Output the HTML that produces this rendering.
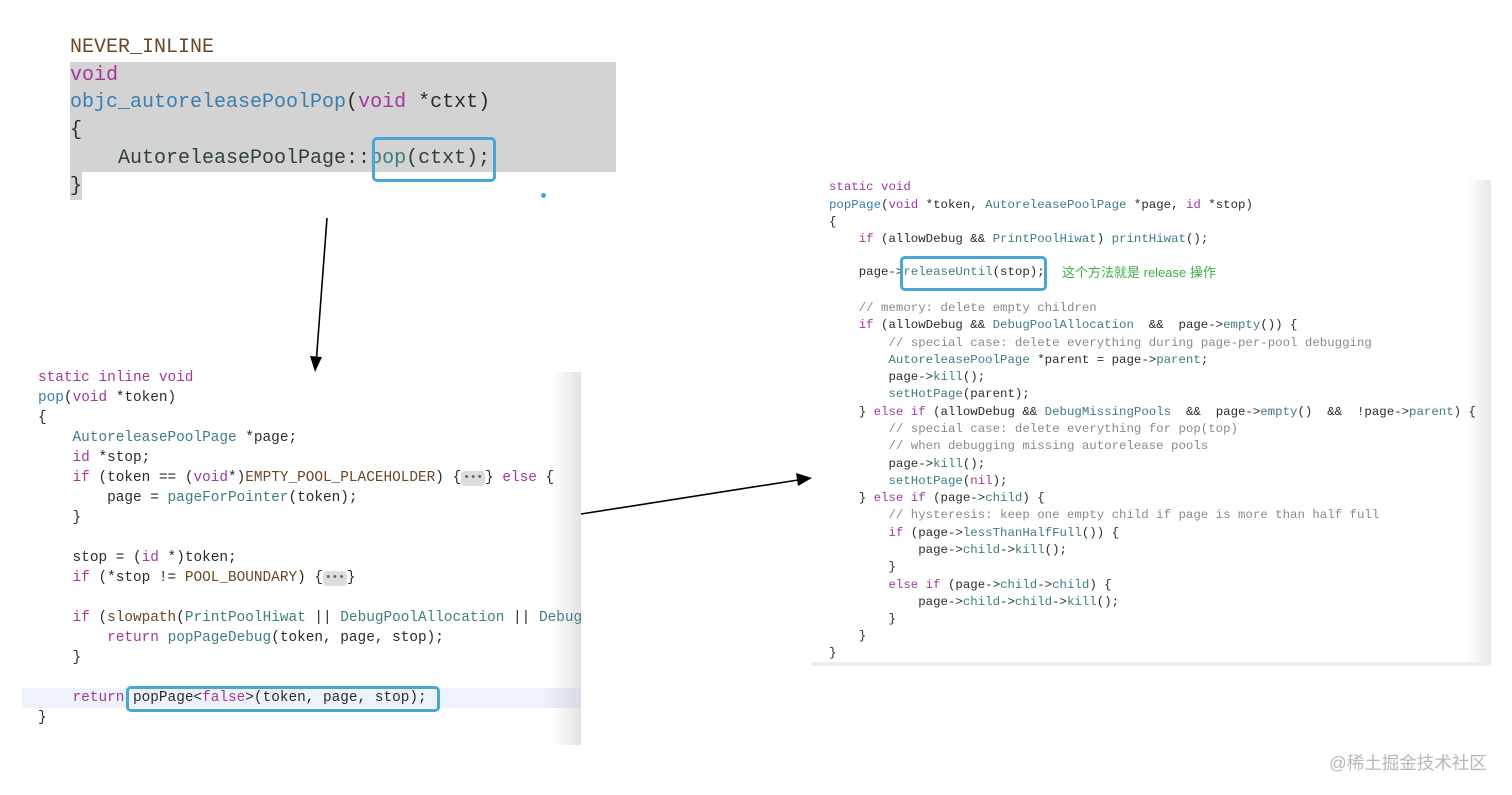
<!DOCTYPE html>
<html><head><meta charset="utf-8"><style>
html,body{margin:0;padding:0;width:1512px;height:795px;background:#fff;overflow:hidden;position:relative}
.l{position:absolute;white-space:pre;font-family:"Liberation Mono",monospace;color:#2b2b2b}
.t .l{font-size:20px;line-height:28px}
.m .l{font-size:14.4px;line-height:20px}
.r .l{font-size:12.4px;line-height:17px}
.k{color:#a0399b}.f{color:#3a7db0}.p{color:#3f7d82}.mc{color:#6a4726}.c{color:#8a8a8a}.g{color:#2f3f3a}
.box{position:absolute;border:3px solid #4aa7d4;border-radius:5px;box-sizing:border-box}
.dots{display:inline-block;background:#ddd;border-radius:4px;color:#666;font-size:11px;line-height:15px;padding:0 2px;vertical-align:1px}
</style></head><body>
<!-- top block -->
<div style="position:absolute;left:70px;top:62px;width:546px;height:110px;background:#d3d3d3"></div>
<div style="position:absolute;left:70px;top:172px;width:12px;height:28px;background:#d3d3d3"></div>
<div class="t">
<div class="l mc" style="left:70px;top:34px">NEVER_INLINE</div>
<div class="l k" style="left:70px;top:62px">void</div>
<div class="l" style="left:70px;top:89px"><span class="f">objc_autoreleasePoolPop</span>(<span class="k">void</span> *ctxt)</div>
<div class="l" style="left:70px;top:117px">{</div>
<div class="l g" style="left:70px;top:145px">    AutoreleasePoolPage::<span class="p">pop</span>(ctxt);</div>
<div class="l" style="left:70px;top:173px">}</div>
</div>
<div class="box" style="left:372px;top:137px;width:124px;height:45px"></div>
<div style="position:absolute;left:541px;top:193px;width:5px;height:5px;border-radius:50%;background:#4aa7d4"></div>

<!-- middle block -->
<div style="position:absolute;left:22px;top:372px;width:559px;height:373px;background:linear-gradient(to right,#fff 0,#fff 530px,#e4e4e4 559px)"></div>
<div style="position:absolute;left:22px;top:688px;width:559px;height:20px;background:linear-gradient(to right,#eef2fa 0,#eef2fa 520px,#d8dbe2 559px)"></div>
<div class="m">
<div class="l k" style="left:38px;top:368px">static inline void</div>
<div class="l" style="left:38px;top:388px"><span class="f">pop</span>(<span class="k">void</span> *token)</div>
<div class="l" style="left:38px;top:408px">{</div>
<div class="l" style="left:38px;top:428px">    <span class="p">AutoreleasePoolPage</span> *page;</div>
<div class="l" style="left:38px;top:448px">    <span class="k">id</span> *stop;</div>
<div class="l" style="left:38px;top:468px">    <span class="k">if</span> (token == (<span class="k">void</span>*)<span class="mc">EMPTY_POOL_PLACEHOLDER</span>) {<span class="dots">•••</span>} <span class="k">else</span> {</div>
<div class="l" style="left:38px;top:488px">        page = <span class="p">pageForPointer</span>(token);</div>
<div class="l" style="left:38px;top:508px">    }</div>
<div class="l" style="left:38px;top:548px">    stop = (<span class="k">id</span> *)token;</div>
<div class="l" style="left:38px;top:568px">    <span class="k">if</span> (*stop != <span class="mc">POOL_BOUNDARY</span>) {<span class="dots">•••</span>}</div>
<div class="l" style="left:38px;top:608px;width:543px;overflow:hidden">    <span class="k">if</span> (<span class="mc">slowpath</span>(<span class="p">PrintPoolHiwat</span> || <span class="p">DebugPoolAllocation</span> || <span class="p">DebugMissingPools</span></div>
<div class="l" style="left:38px;top:628px">        <span class="k">return</span> <span class="p">popPageDebug</span>(token, page, stop);</div>
<div class="l" style="left:38px;top:648px">    }</div>
<div class="l" style="left:38px;top:688px">    <span class="k">return</span> popPage&lt;<span class="k">false</span>&gt;(token, page, stop);</div>
<div class="l" style="left:38px;top:708px">}</div>
</div>
<div class="box" style="left:126px;top:686px;width:314px;height:26px"></div>

<!-- right block -->
<div style="position:absolute;left:812px;top:180px;width:679px;height:485px;background:linear-gradient(to right,#fff 0,#fff 655px,#e8e8e8 679px)"></div>
<div style="position:absolute;left:812px;top:662px;width:679px;height:4px;background:#eee"></div>
<div class="r">
<div class="l k" style="left:829px;top:179px">static void</div>
<div class="l" style="left:829px;top:197px"><span class="f">popPage</span>(<span class="k">void</span> *token, <span class="p">AutoreleasePoolPage</span> *page, <span class="k">id</span> *stop)</div>
<div class="l" style="left:829px;top:214px">{</div>
<div class="l" style="left:829px;top:231px">    <span class="k">if</span> (allowDebug &amp;&amp; <span class="p">PrintPoolHiwat</span>) <span class="p">printHiwat</span>();</div>
<div class="l" style="left:829px;top:264px">    page-&gt;<span class="p">releaseUntil</span>(stop);</div>
<div class="l" style="left:829px;top:300px">    <span class="c">// memory: delete empty children</span></div>
<div class="l" style="left:829px;top:317px">    <span class="k">if</span> (allowDebug &amp;&amp; <span class="p">DebugPoolAllocation</span>  &amp;&amp;  page-&gt;<span class="p">empty</span>()) {</div>
<div class="l" style="left:829px;top:335px">        <span class="c">// special case: delete everything during page-per-pool debugging</span></div>
<div class="l" style="left:829px;top:352px">        <span class="p">AutoreleasePoolPage</span> *parent = page-&gt;<span class="p">parent</span>;</div>
<div class="l" style="left:829px;top:369px">        page-&gt;<span class="p">kill</span>();</div>
<div class="l" style="left:829px;top:386px">        <span class="p">setHotPage</span>(parent);</div>
<div class="l" style="left:829px;top:404px">    } <span class="k">else if</span> (allowDebug &amp;&amp; <span class="p">DebugMissingPools</span>  &amp;&amp;  page-&gt;<span class="p">empty</span>()  &amp;&amp;  !page-&gt;<span class="p">parent</span>) {</div>
<div class="l" style="left:829px;top:421px">        <span class="c">// special case: delete everything for pop(top)</span></div>
<div class="l" style="left:829px;top:438px">        <span class="c">// when debugging missing autorelease pools</span></div>
<div class="l" style="left:829px;top:456px">        page-&gt;<span class="p">kill</span>();</div>
<div class="l" style="left:829px;top:473px">        <span class="p">setHotPage</span>(<span class="k">nil</span>);</div>
<div class="l" style="left:829px;top:490px">    } <span class="k">else if</span> (page-&gt;<span class="p">child</span>) {</div>
<div class="l" style="left:829px;top:507px">        <span class="c">// hysteresis: keep one empty child if page is more than half full</span></div>
<div class="l" style="left:829px;top:525px">        <span class="k">if</span> (page-&gt;<span class="p">lessThanHalfFull</span>()) {</div>
<div class="l" style="left:829px;top:542px">            page-&gt;<span class="p">child</span>-&gt;<span class="p">kill</span>();</div>
<div class="l" style="left:829px;top:559px">        }</div>
<div class="l" style="left:829px;top:577px">        <span class="k">else if</span> (page-&gt;<span class="p">child</span>-&gt;<span class="p">child</span>) {</div>
<div class="l" style="left:829px;top:594px">            page-&gt;<span class="p">child</span>-&gt;<span class="p">child</span>-&gt;<span class="p">kill</span>();</div>
<div class="l" style="left:829px;top:611px">        }</div>
<div class="l" style="left:829px;top:628px">    }</div>
<div class="l" style="left:829px;top:645px">}</div>
</div>
<div class="box" style="left:900px;top:256px;width:147px;height:35px"></div>
<div style="position:absolute;left:1062px;top:262px;font-family:'Liberation Sans','Noto Sans CJK SC',sans-serif;font-size:13px;color:#3fae4a;white-space:pre">这个方法就是 release 操作</div>

<!-- arrows -->
<svg width="1512" height="795" style="position:absolute;left:0;top:0">
<line x1="327" y1="218" x2="316.5" y2="358" stroke="#000" stroke-width="1.6"/>
<polygon points="315,372 310,356 322,357" fill="#000"/>
<line x1="581" y1="514" x2="798" y2="480" stroke="#000" stroke-width="1.6"/>
<polygon points="812,478 796,473 798,486" fill="#000"/>
</svg>

<div style="position:absolute;left:1329px;top:750px;font-family:'Liberation Sans','Noto Sans CJK SC',sans-serif;font-size:17.5px;color:#b8b8b8;white-space:pre">@稀土掘金技术社区</div>
</body></html>
